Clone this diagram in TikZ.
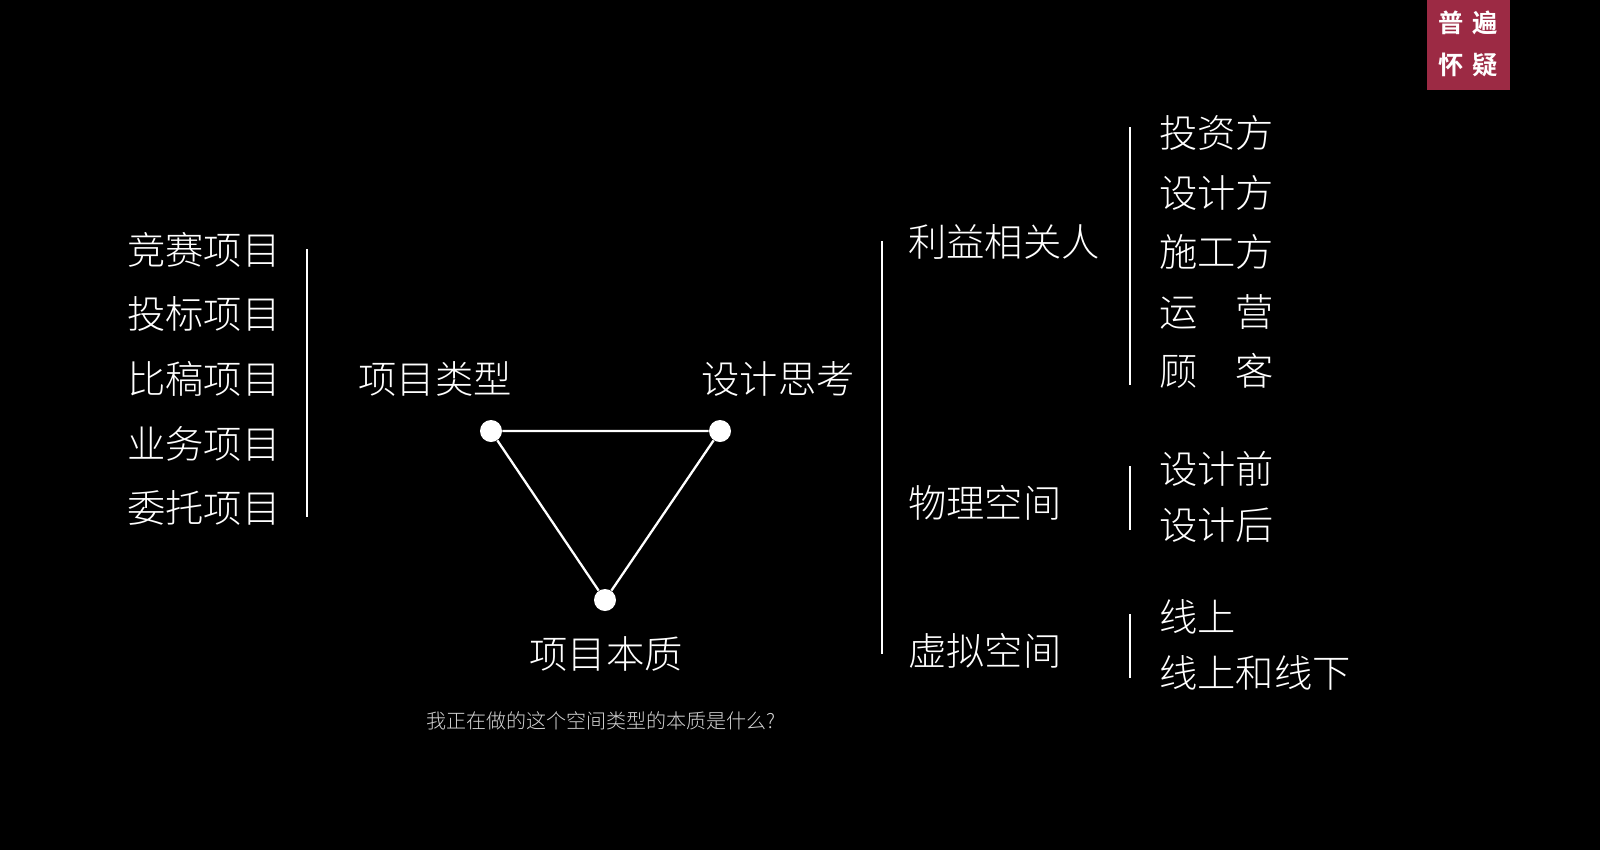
\documentclass[tikz,border=0pt]{standalone}
\usepackage{fontspec}
\newfontfamily\cjk{Noto Sans CJK SC Light}
\newfontfamily\cjkb{Noto Sans CJK SC Bold}
\definecolor{badgered}{RGB}{156,42,68}
\definecolor{notegray}{RGB}{212,212,212}
\tikzset{
  big/.style={font=\cjk\fontsize{21.8}{24}\selectfont, text=white, inner sep=0pt},
  note/.style={font=\cjk\fontsize{11.4}{13}\selectfont, text=notegray, inner sep=0pt},
  tag/.style={font=\cjkb\fontsize{14.4}{16}\selectfont, text=white, inner sep=0pt},
  bar/.style={white, line width=1.6pt},
  dot/.style={circle, fill=white, minimum size=0.44cm, inner sep=0pt},
}
\begin{document}
\begin{tikzpicture}[x=0.02cm, y=-0.02cm]
  \fill[black] (0,0) rectangle (1600,850);

  % badge top right
  \fill[badgered] (1427,0) rectangle (1510,90);
  \node[tag] (tag1) at (1468,23) {普\hspace{0.18cm}遍};
  \node[tag] (tag2) at (1468,65) {怀\hspace{0.18cm}疑};

  % left column: project kinds
  \node[big, anchor=west] (k1) at (127,250) {竞赛项目};
  \node[big, anchor=west] (k2) at (127,314) {投标项目};
  \node[big, anchor=west] (k3) at (127,379) {比稿项目};
  \node[big, anchor=west] (k4) at (127,444) {业务项目};
  \node[big, anchor=west] (k5) at (127,508) {委托项目};
  \coordinate (l1) at (307,249);
  \coordinate (l2) at (307,517);
  \draw[bar] (l1) -- (l2);

  % triangle
  \node[dot] (ta) at (491,431) {};
  \node[dot] (tb) at (720,431) {};
  \node[dot] (tc) at (605,600) {};
  \draw[white, line width=1.3pt] (ta) -- (tb) -- (tc) -- (ta);
  \node[big] (na) at (435,379) {项目类型};
  \node[big] (nb) at (778,379) {设计思考};
  \node[big] (nc) at (606,654) {项目本质};
  \node[note] (q) at (601,721) {我正在做的这个空间类型的本质是什么?};

  % middle column
  \coordinate (m1) at (882,241);
  \coordinate (m2) at (882,654);
  \draw[bar] (m1) -- (m2);
  \node[big, anchor=west] (g1) at (908,242) {利益相关人};
  \node[big, anchor=west] (g2) at (908,503) {物理空间};
  \node[big, anchor=west] (g3) at (908,651) {虚拟空间};

  % right column
  \coordinate (r1) at (1130,127);
  \coordinate (r2) at (1130,385);
  \draw[bar] (r1) -- (r2);
  \node[big, anchor=west] (s1) at (1159,133) {投资方};
  \node[big, anchor=west] (s2) at (1159,193) {设计方};
  \node[big, anchor=west] (s3) at (1159,252) {施工方};
  \node[big, anchor=west] (s4) at (1159,312) {运\hspace{1em}营};
  \node[big, anchor=west] (s5) at (1159,371) {顾\hspace{1em}客};

  \coordinate (r3) at (1130,466);
  \coordinate (r4) at (1130,530);
  \draw[bar] (r3) -- (r4);
  \node[big, anchor=west] (p1) at (1159,469) {设计前};
  \node[big, anchor=west] (p2) at (1159,525) {设计后};

  \coordinate (r5) at (1130,614);
  \coordinate (r6) at (1130,678);
  \draw[bar] (r5) -- (r6);
  \node[big, anchor=west] (v1) at (1159,617) {线上};
  \node[big, anchor=west] (v2) at (1159,673) {线上和线下};
\end{tikzpicture}
\end{document}
